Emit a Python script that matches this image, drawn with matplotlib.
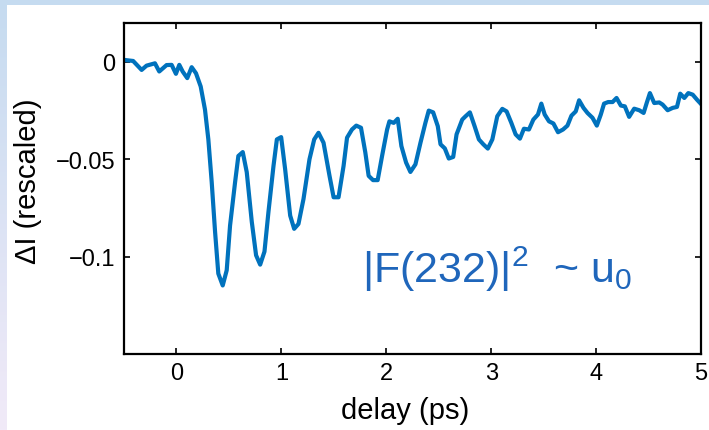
import numpy as np
import matplotlib
matplotlib.use("Agg")
import matplotlib.pyplot as plt
from matplotlib.patches import Rectangle

plt.rcParams['font.family'] = ['Liberation Sans', 'DejaVu Sans']
plt.rcParams['mathtext.fontset'] = 'custom'
plt.rcParams['mathtext.rm'] = 'Liberation Sans'
plt.rcParams['mathtext.it'] = 'Liberation Sans'

# ---- data ----
delay_ps = [-0.492, -0.413, -0.332, -0.285, -0.205, -0.164, -0.094, -0.046, -0.005, 0.027,
            0.059, 0.103, 0.145, 0.186, 0.231, 0.272, 0.304, 0.336, 0.368, 0.399,
            0.441, 0.479, 0.511, 0.559, 0.590, 0.632, 0.670, 0.718, 0.759, 0.798,
            0.839, 0.877, 0.925, 0.957, 0.998, 1.036, 1.084, 1.122, 1.163, 1.211,
            1.268, 1.313, 1.354, 1.402, 1.459, 1.498, 1.545, 1.593, 1.626, 1.673,
            1.714, 1.759, 1.800, 1.832, 1.874, 1.918, 1.960, 2.008, 2.030, 2.071,
            2.109, 2.144, 2.189, 2.230, 2.278, 2.326, 2.373, 2.405, 2.447, 2.491,
            2.517, 2.558, 2.596, 2.638, 2.670, 2.724, 2.756, 2.797, 2.842, 2.883,
            2.925, 2.968, 3.011, 3.058, 3.106, 3.147, 3.192, 3.233, 3.274, 3.312,
            3.360, 3.402, 3.446, 3.478, 3.510, 3.551, 3.593, 3.637, 3.685, 3.727,
            3.765, 3.806, 3.838, 3.880, 3.918, 3.966, 4.007, 4.045, 4.076, 4.115,
            4.157, 4.195, 4.236, 4.274, 4.315, 4.363, 4.411, 4.453, 4.484, 4.513,
            4.554, 4.602, 4.634, 4.682, 4.730, 4.771, 4.802, 4.841, 4.879, 4.921,
            4.962, 5.000]
delta_I = [0.0010, 0.0005, -0.0041, -0.0019, -0.0007, -0.0049, -0.0016, -0.0015, -0.0061, -0.0015,
           -0.0049, -0.0083, -0.0027, -0.0058, -0.0126, -0.0245, -0.0398, -0.0617, -0.0872, -0.1087,
           -0.1148, -0.1070, -0.0840, -0.0617, -0.0483, -0.0463, -0.0566, -0.0821, -0.0993, -0.1041,
           -0.0974, -0.0770, -0.0534, -0.0398, -0.0386, -0.0551, -0.0789, -0.0857, -0.0832, -0.0704,
           -0.0500, -0.0398, -0.0364, -0.0415, -0.0585, -0.0695, -0.0695, -0.0534, -0.0389, -0.0347,
           -0.0327, -0.0338, -0.0464, -0.0585, -0.0607, -0.0607, -0.0483, -0.0347, -0.0305, -0.0313,
           -0.0292, -0.0432, -0.0517, -0.0565, -0.0526, -0.0415, -0.0313, -0.0250, -0.0259, -0.0330,
           -0.0423, -0.0444, -0.0496, -0.0488, -0.0372, -0.0296, -0.0279, -0.0259, -0.0330, -0.0398,
           -0.0423, -0.0445, -0.0398, -0.0279, -0.0241, -0.0254, -0.0313, -0.0372, -0.0394, -0.0343,
           -0.0347, -0.0296, -0.0270, -0.0214, -0.0270, -0.0305, -0.0316, -0.0361, -0.0347, -0.0327,
           -0.0276, -0.0254, -0.0197, -0.0236, -0.0262, -0.0287, -0.0327, -0.0270, -0.0214, -0.0206,
           -0.0206, -0.0185, -0.0224, -0.0228, -0.0282, -0.0240, -0.0248, -0.0262, -0.0208, -0.0160,
           -0.0211, -0.0208, -0.0219, -0.0248, -0.0236, -0.0231, -0.0163, -0.0185, -0.0160, -0.0168,
           -0.0194, -0.0216]

x_ticks = [0, 1, 2, 3, 4, 5]
x_tick_labels = ['0', '1', '2', '3', '4', '5']
y_ticks = [0, -0.05, -0.1]
y_tick_labels = ['0', '\u22120.05', '\u22120.1']
x_label = 'delay (ps)'
y_label = '\u0394I (rescaled)'
annotation = r'$|\mathrm{F(232)}|^{2}$  ~ u$_{0}$'

W, H = 709, 431
fig = plt.figure(figsize=(W / 100, H / 100), dpi=100)

# slide-like background: gradient border and white panel
bg = fig.add_axes([0, 0, 1, 1], zorder=-10)
top_c = np.array([0xc5, 0xdb, 0xf0]) / 255
bot_c = np.array([0xf1, 0xea, 0xf8]) / 255
t = np.linspace(0, 1, 256)[:, None]
grad = (top_c[None, :] * (1 - t) + bot_c[None, :] * t)[:, None, :]
bg.imshow(grad, aspect='auto', extent=[0, 1, 0, 1], origin='upper')
bg.add_patch(Rectangle((7 / W, 0), 1, 1 - 6 / H, transform=bg.transAxes,
                       facecolor='white', edgecolor='none'))
bg.set_xlim(0, 1)
bg.set_ylim(0, 1)
bg.axis('off')

left, right, top, bottom = 124, 701, 24, 355
ax = fig.add_axes([left / W, 1 - bottom / H, (right - left) / W, (bottom - top) / H])
ax.set_facecolor('white')
ax.plot(delay_ps, delta_I, color='#0072BD', lw=3.0, solid_joinstyle='round')

ax.set_xlim(-0.5, 5)
ax.set_ylim(-0.15, 0.02)
ax.set_xticks(x_ticks)
ax.set_xticklabels(x_tick_labels)
ax.set_yticks(y_ticks)
ax.set_yticklabels(y_tick_labels)
ax.tick_params(direction='in', length=4, width=1.2, top=True, right=True,
               labelsize=17, pad=6, colors='black')
for s in ax.spines.values():
    s.set_linewidth(1.6)
ax.set_xlabel(x_label, fontsize=21)
ax.set_ylabel(y_label, fontsize=21)
ax.xaxis.set_label_coords(0.487, -0.128)
ax.yaxis.set_label_coords(-0.142, 0.526)

ax.text(1.77, -0.106, annotation, color='#1f66bb', fontsize=31,
        ha='left', va='center')

fig.savefig('out.png', dpi=100)
